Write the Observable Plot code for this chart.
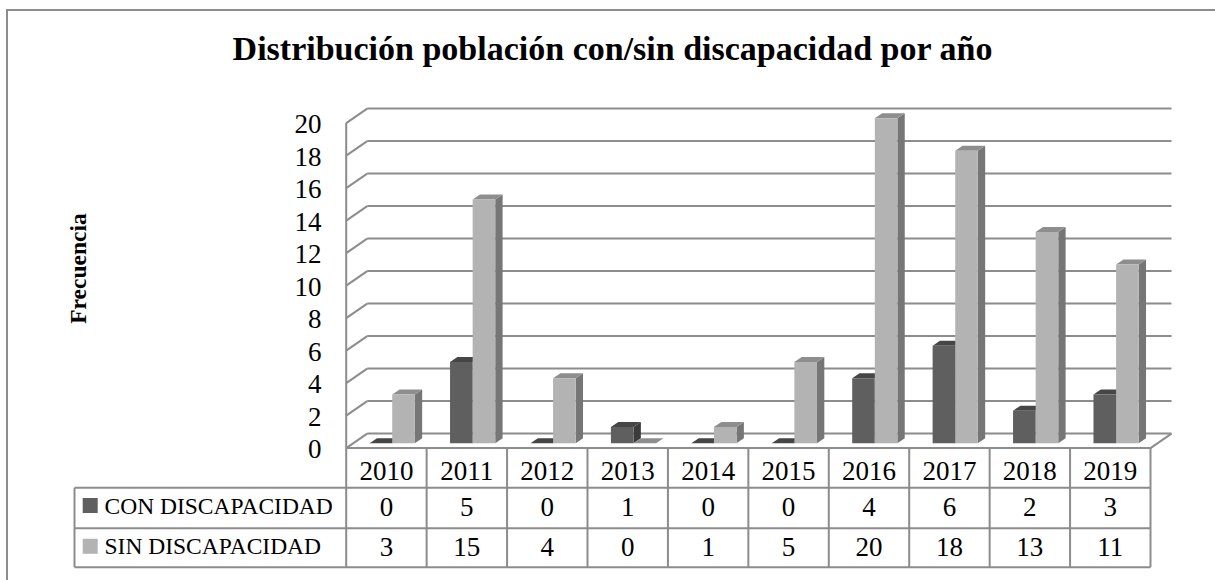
<!DOCTYPE html>
<html>
<head>
<meta charset="utf-8">
<script src="https://cdn.jsdelivr.net/npm/d3@7"></script>
<script src="https://cdn.jsdelivr.net/npm/@observablehq/plot@0.6"></script>
<style>
  html, body { margin: 0; padding: 0; background: #fff; }
  #chart { width: 1215px; height: 580px; overflow: hidden; }
</style>
</head>
<body>
<div id="chart"></div>
<script>
// ---------- data ----------
const years = ["2010", "2011", "2012", "2013", "2014", "2015", "2016", "2017", "2018", "2019"];
const conDiscapacidad = [0, 5, 0, 1, 0, 0, 4, 6, 2, 3];
const sinDiscapacidad = [3, 15, 4, 0, 1, 5, 20, 18, 13, 11];
const seriesNames = ["CON DISCAPACIDAD", "SIN DISCAPACIDAD"];
const yTicks = [0, 2, 4, 6, 8, 10, 12, 14, 16, 18, 20];
const titleText = "Distribución población con/sin discapacidad por año";
const yLabel = "Frecuencia";

// ---------- layout (pixels) ----------
const X0 = 345.7, UX = 80.43;     // left of category axis, px per category
const Y0 = 447.6, UY = 16.25;     // front floor y, px per unit
const ux = px => (px - X0) / UX;
const uy = py => (Y0 - py) / UY;
const Dx = 21 / UX, Dy = 14.5 / UY;   // full depth offset in data units
const f1 = 0.3, f2 = 0.65;            // bar depth fractions
const BW = 22.6 / UX;                 // bar width in category units

const fills = [
  {front: "#5f5f5f", top: "#464646", side: "#3b3b3b"},
  {front: "#b3b3b3", top: "#8e8e8e", side: "#767676"}
];
const gridColor = "#8c8c8c";

const series = [conDiscapacidad, sinDiscapacidad];
const bars = years.flatMap((yr, i) => series.map((vals, s) => {
  const xL = i + 0.5 + (s - 1) * BW;
  return {id: yr + "-" + s, s, v: vals[i], xL, xR: xL + BW};
}));
const sidePts = bars.flatMap(b => [
  {id: b.id, s: b.s, x: b.xR + f1 * Dx, y1: f1 * Dy, y2: b.v + f1 * Dy},
  {id: b.id, s: b.s, x: b.xR + f2 * Dx, y1: f2 * Dy, y2: b.v + f2 * Dy}
]);
const topPts = bars.flatMap(b => [
  {id: b.id, s: b.s, y: b.v + f1 * Dy, x1: b.xL + f1 * Dx, x2: b.xR + f1 * Dx},
  {id: b.id, s: b.s, y: b.v + f2 * Dy, x1: b.xL + f2 * Dx, x2: b.xR + f2 * Dx}
]);

// table geometry
const rowLines = [uy(487.3), uy(527.7), uy(566.7)];
const tableLeft = ux(74);
const tableBottom = uy(566.7);
const headerY = uy(471);
const rowY = [uy(506.5), uy(546.8)];
const labelY = [uy(505.5), uy(546.3)];
const cells = series.flatMap((vals, s) => vals.map((v, i) => ({x: i + 0.5, y: rowY[s], t: String(v)})));
const catEdges = d3.range(1, years.length + 1);

const plot = Plot.plot({
  width: 1215,
  height: 580,
  style: {fontFamily: "'Liberation Serif', serif", background: "transparent", color: "#000"},
  x: {domain: [0, 10], range: [X0, X0 + 10 * UX], axis: null},
  y: {domain: [0, 20], range: [Y0, Y0 - 20 * UY], axis: null},
  marks: [
    // outer frame
    Plot.rect([0], {x1: ux(7), x2: ux(1240), y1: uy(10), y2: uy(620), fill: "none", stroke: "#8c8c8c", strokeWidth: 2}),
    // title
    Plot.text([titleText], {x: ux(612), y: uy(59.5), text: d => d, fontSize: 34, fontWeight: "bold", textAnchor: "middle", lineAnchor: "bottom", fill: "#000"}),
    // y label
    Plot.text([yLabel], {x: ux(78), y: uy(268), text: d => d, rotate: -90, fontSize: 23.5, fontWeight: "bold", textAnchor: "middle", lineAnchor: "middle", fill: "#000"}),
    // back wall gridlines
    Plot.link(yTicks, {x1: Dx, x2: 10 + Dx, y1: d => d + Dy, y2: d => d + Dy, stroke: gridColor, strokeWidth: 2}),
    // left wall slants
    Plot.link(yTicks, {x1: 0, x2: Dx, y1: d => d, y2: d => d + Dy, stroke: gridColor, strokeWidth: 2}),
    // left vertical axis line down through table
    Plot.link([0], {x1: 0, x2: 0, y1: 20, y2: tableBottom, stroke: gridColor, strokeWidth: 2}),
    // floor front edge and right slant
    Plot.link([0], {x1: 0, x2: 10, y1: 0, y2: 0, stroke: gridColor, strokeWidth: 2}),
    Plot.link([0], {x1: 10, x2: 10 + Dx, y1: 0, y2: Dy, stroke: gridColor, strokeWidth: 2}),
    // y tick labels
    Plot.text(yTicks, {x: ux(321), y: d => d, text: d => String(d), dy: 1.5, textAnchor: "end", lineAnchor: "middle", fontSize: 27, fill: "#000"}),
    // bars: sides, tops, fronts
    Plot.areaY(sidePts, {x: "x", y1: "y1", y2: "y2", z: "id", fill: d => fills[d.s].side, curve: "linear"}),
    Plot.areaX(topPts, {y: "y", x1: "x1", x2: "x2", z: "id", fill: d => fills[d.s].top, curve: "linear"}),
    Plot.rect(bars, {x1: d => d.xL + f1 * Dx, x2: d => d.xR + f1 * Dx, y1: f1 * Dy, y2: d => d.v + f1 * Dy, fill: d => fills[d.s].front}),
    // table lines
    Plot.link(catEdges, {x1: d => d, x2: d => d, y1: 0, y2: tableBottom, stroke: gridColor, strokeWidth: 2}),
    Plot.link([0], {x1: tableLeft, x2: tableLeft, y1: rowLines[0], y2: tableBottom, stroke: gridColor, strokeWidth: 2}),
    Plot.link(rowLines, {x1: tableLeft, x2: 10, y1: d => d, y2: d => d, stroke: gridColor, strokeWidth: 2}),
    // header years
    Plot.text(years, {x: (d, i) => i + 0.5, y: headerY, text: d => d, textAnchor: "middle", lineAnchor: "middle", fontSize: 27, fill: "#000"}),
    // values
    Plot.text(cells, {x: "x", y: "y", text: "t", textAnchor: "middle", lineAnchor: "middle", fontSize: 27, fill: "#000"}),
    // legend squares and labels
    Plot.rect(seriesNames, {x1: ux(82.7), x2: ux(97.7), y1: (d, i) => labelY[i] + 7.5 / UY, y2: (d, i) => labelY[i] - 7.5 / UY, fill: (d, i) => fills[i].front}),
    Plot.text(seriesNames, {x: ux(104), y: (d, i) => labelY[i], text: d => d, textAnchor: "start", lineAnchor: "middle", fontSize: 23.5, fill: "#000"})
  ]
});
document.getElementById("chart").appendChild(plot);
</script>
</body>
</html>
